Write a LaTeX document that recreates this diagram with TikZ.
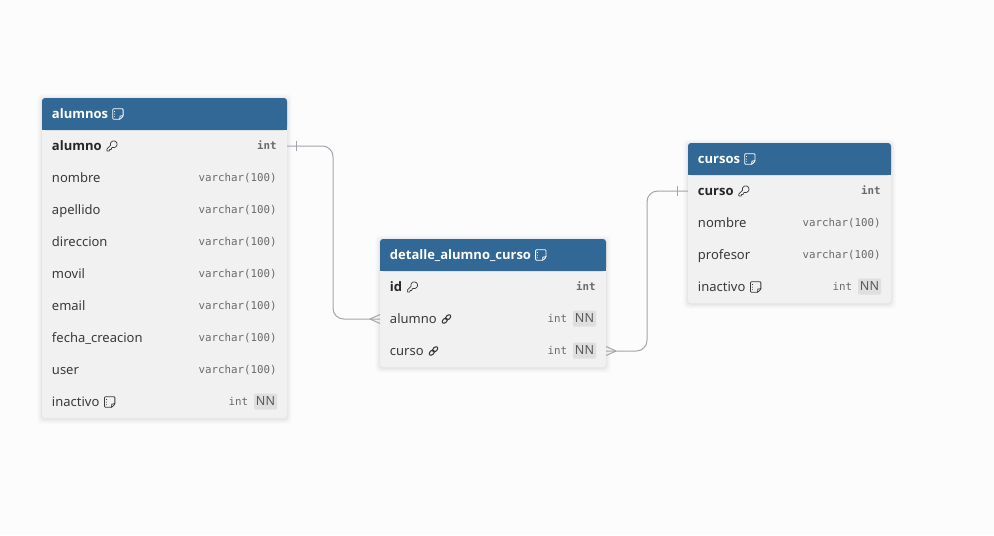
\documentclass[tikz,border=0pt]{standalone}
\usepackage{fontspec}
\setmainfont{Noto Sans}
\newfontfamily\boldface{Open Sans}
\setmonofont{DejaVu Sans Mono}
\definecolor{bgc}{HTML}{FCFCFC}
\definecolor{headc}{HTML}{316896}
\definecolor{bodyc}{HTML}{F1F1F1}
\definecolor{namec}{HTML}{3A3A3A}
\definecolor{pkc}{HTML}{262626}
\definecolor{typec}{HTML}{6A6A6A}
\definecolor{nnc}{HTML}{5A5A5A}
\definecolor{badgec}{HTML}{DFDFDF}
\definecolor{linkc}{HTML}{A3A3AC}
\tikzset{
  x=0.75pt,y=-0.75pt,
  tablebox/.style={rectangle,fill=bodyc,rounded corners=2.25pt,inner sep=0pt,outer sep=0pt,anchor=north west},
  headbox/.style={rectangle,fill=headc,rounded corners=2.25pt,inner sep=0pt,outer sep=0pt,anchor=north west},
  rowbox/.style={rectangle,inner sep=0pt,outer sep=0pt,anchor=north west,minimum height=24pt},
  title/.style={inner sep=0pt,anchor=base west,text=white,font=\boldface\bfseries\fontsize{9.75pt}{12pt}\selectfont},
  colname/.style={inner sep=0pt,anchor=base west,text=namec,font=\fontsize{9.75pt}{12pt}\selectfont},
  pkname/.style={inner sep=0pt,anchor=base west,text=pkc,font=\boldface\bfseries\fontsize{9.75pt}{12pt}\selectfont},
  coltype/.style={inner sep=0pt,anchor=base east,text=typec,font=\ttfamily\fontsize{8.1pt}{12pt}\selectfont},
  pktype/.style={coltype,font=\ttfamily\bfseries\fontsize{8.1pt}{12pt}\selectfont},
  nnbadge/.style={rectangle,fill=badgec,rounded corners=1pt,inner sep=0pt,outer sep=0pt,minimum width=17.25pt,minimum height=12pt,anchor=east,text=nnc,font=\fontsize{9.4pt}{12pt}\selectfont},
  conn/.style={draw=linkc,line width=0.75pt},
  connr/.style={conn,rounded corners=8pt},
  icon/.style={line width=0.6pt,line join=round,line cap=round},
}
% table: id, x, y, w, h, title
\newcommand{\tbl}[6]{%
  \foreach \s/\o in {5/0.01,4/0.012,3/0.016,2/0.02,1/0.028}{
    \fill[black,opacity=\o,rounded corners=3pt] (#2-\s,#3-\s+1) rectangle (#2+#4+\s,#3+#5+\s+1);
  }
  \node[tablebox,minimum width=#4*0.75pt,minimum height=#5*0.75pt] (#1) at (#2,#3) {};
  \node[headbox,minimum width=#4*0.75pt,minimum height=24pt] (#1-h) at (#2,#3) {};
  \fill[headc] (#2,#3+16) rectangle (#2+#4,#3+32);
  \node[title] (#1-t) at (#2+9.7,#3+20.5) {#6};
  \noteic{#1-t.east |- #1-h.center}{white}{9.5}
}
% row: id, x, y, w
\newcommand{\trow}[4]{\node[rowbox,minimum width=#4*0.75pt] (#1) at (#2,#3) {};}
\newcommand{\cname}[3]{\node[#3] (#1-n) at ([shift={(9.7,4.2)}]#1.west) {#2};}
\newcommand{\ctype}[3]{\node[#3] (#1-y) at ([shift={(-10,3.8)}]#1.east) {#2};}
\newcommand{\ctypenn}[1]{%
  \node[nnbadge] (#1-b) at ([shift={(-10,-0.5)}]#1.east) {NN};
  \node[coltype] (#1-y) at ([shift={(-38.5,3.8)}]#1.east) {int};}
% icons: anchor expression, colour, x offset
\newcommand{\noteic}[3]{%
  \begin{scope}[shift={($(#1)+(#3,0)$)}]
    \draw[icon,draw=#2,rounded corners=0.6pt] (-5.2,-5.2) -- (5.2,-5.2) -- (5.2,2.2) -- (2.2,5.2) -- (-5.2,5.2) -- cycle;
    \draw[icon,draw=#2] (5.2,1.8) -- (2.1,2) -- (1.9,5.2);
    \draw[icon,draw=#2,line width=0.5pt] (-3.4,-2.6) -- (-3.4,-2.4) (-3.4,0) -- (-3.4,0.2) (-3.4,2.6) -- (-3.4,2.8);
  \end{scope}}
\newcommand{\keyic}[3]{%
  \begin{scope}[shift={($(#1)+(#3,0)$)},x=0.38pt,y=-0.38pt,shift={(-12,-12)}]
    \draw[icon,draw=#2,line width=0.55pt] (2.6,17.4) -- (2,18.8) -- (2,21.6) -- (3,22) -- (6.4,22) -- (7,21) -- (7,19.6) -- (8,19) -- (10,19) -- (11,18) -- (11,16.4) -- (12,15.5) -- (12.6,15.4) -- (13.4,14.6)
      -- plot[domain=109:-199,samples=40] ({15.5+6.45*cos(\x)},{8.5+6.45*sin(\x)}) -- cycle;
  \end{scope}}
\newcommand{\linkic}[3]{%
  \begin{scope}[shift={($(#1)+(#3,0)$)}]
    \draw[icon,draw=#2,line width=0.8pt,rotate=45] (-2.4,0) ellipse[x radius=2.3pt,y radius=1.5pt];
    \draw[icon,draw=#2,line width=0.8pt,rotate=45] (2.4,0) ellipse[x radius=2.3pt,y radius=1.5pt];
  \end{scope}}
\usetikzlibrary{calc}
\begin{document}
\begin{tikzpicture}
\useasboundingbox (0,0) rectangle (994,535);
\fill[bgc] (0,0) rectangle (994,535);

% ---------- alumnos
\tbl{alumnos}{42}{98}{245}{320}{alumnos}
\trow{a1}{42}{130}{245}
\trow{a2}{42}{162}{245}
\trow{a3}{42}{194}{245}
\trow{a4}{42}{226}{245}
\trow{a5}{42}{258}{245}
\trow{a6}{42}{290}{245}
\trow{a7}{42}{322}{245}
\trow{a8}{42}{354}{245}
\trow{a9}{42}{386}{245}
\cname{a1}{alumno}{pkname}\ctype{a1}{int}{pktype}\keyic{a1-n.east |- a1.center}{namec}{10}
\cname{a2}{nombre}{colname}\ctype{a2}{varchar(100)}{coltype}
\cname{a3}{apellido}{colname}\ctype{a3}{varchar(100)}{coltype}
\cname{a4}{direccion}{colname}\ctype{a4}{varchar(100)}{coltype}
\cname{a5}{movil}{colname}\ctype{a5}{varchar(100)}{coltype}
\cname{a6}{email}{colname}\ctype{a6}{varchar(100)}{coltype}
\cname{a7}{fecha\_creacion}{colname}\ctype{a7}{varchar(100)}{coltype}
\cname{a8}{user}{colname}\ctype{a8}{varchar(100)}{coltype}
\cname{a9}{inactivo}{colname}\ctypenn{a9}\noteic{a9-n.east |- a9.center}{namec}{10}

% ---------- detalle_alumno_curso
\tbl{detalle}{380}{239}{226}{128}{detalle\_alumno\_curso}
\trow{d1}{380}{271}{226}
\trow{d2}{380}{303}{226}
\trow{d3}{380}{335}{226}
\cname{d1}{id}{pkname}\ctype{d1}{int}{pktype}\keyic{d1-n.east |- d1.center}{namec}{10}
\cname{d2}{alumno}{colname}\ctypenn{d2}\linkic{d2-n.east |- d2.center}{namec}{9.5}
\cname{d3}{curso}{colname}\ctypenn{d3}\linkic{d3-n.east |- d3.center}{namec}{9.5}

% ---------- cursos
\tbl{cursos}{688}{143}{203}{160}{cursos}
\trow{c1}{688}{175}{203}
\trow{c2}{688}{207}{203}
\trow{c3}{688}{239}{203}
\trow{c4}{688}{271}{203}
\cname{c1}{curso}{pkname}\ctype{c1}{int}{pktype}\keyic{c1-n.east |- c1.center}{namec}{10}
\cname{c2}{nombre}{colname}\ctype{c2}{varchar(100)}{coltype}
\cname{c3}{profesor}{colname}\ctype{c3}{varchar(100)}{coltype}
\cname{c4}{inactivo}{colname}\ctypenn{c4}\noteic{c4-n.east |- c4.center}{namec}{10}

% ---------- connectors
\coordinate (m1) at (333,230);
\coordinate (m2) at (647,270);
\draw[connr] (a1.east) -| (m1) |- (d2.west);
\draw[connr] (d3.east) -| (m2) |- (c1.west);
% cardinality marks
\draw[conn] ([shift={(9.5,-5)}]a1.east) -- ([shift={(9.5,5)}]a1.east);
\draw[conn] ([shift={(-10,0)}]d2.west) -- ([shift={(0,-4.5)}]d2.west);
\draw[conn] ([shift={(-10,0)}]d2.west) -- ([shift={(0,4.5)}]d2.west);
\draw[conn] ([shift={(10,0)}]d3.east) -- ([shift={(0,-4.5)}]d3.east);
\draw[conn] ([shift={(10,0)}]d3.east) -- ([shift={(0,4.5)}]d3.east);
\draw[conn] ([shift={(-10.5,-5)}]c1.west) -- ([shift={(-10.5,5)}]c1.west);
\end{tikzpicture}
\end{document}
